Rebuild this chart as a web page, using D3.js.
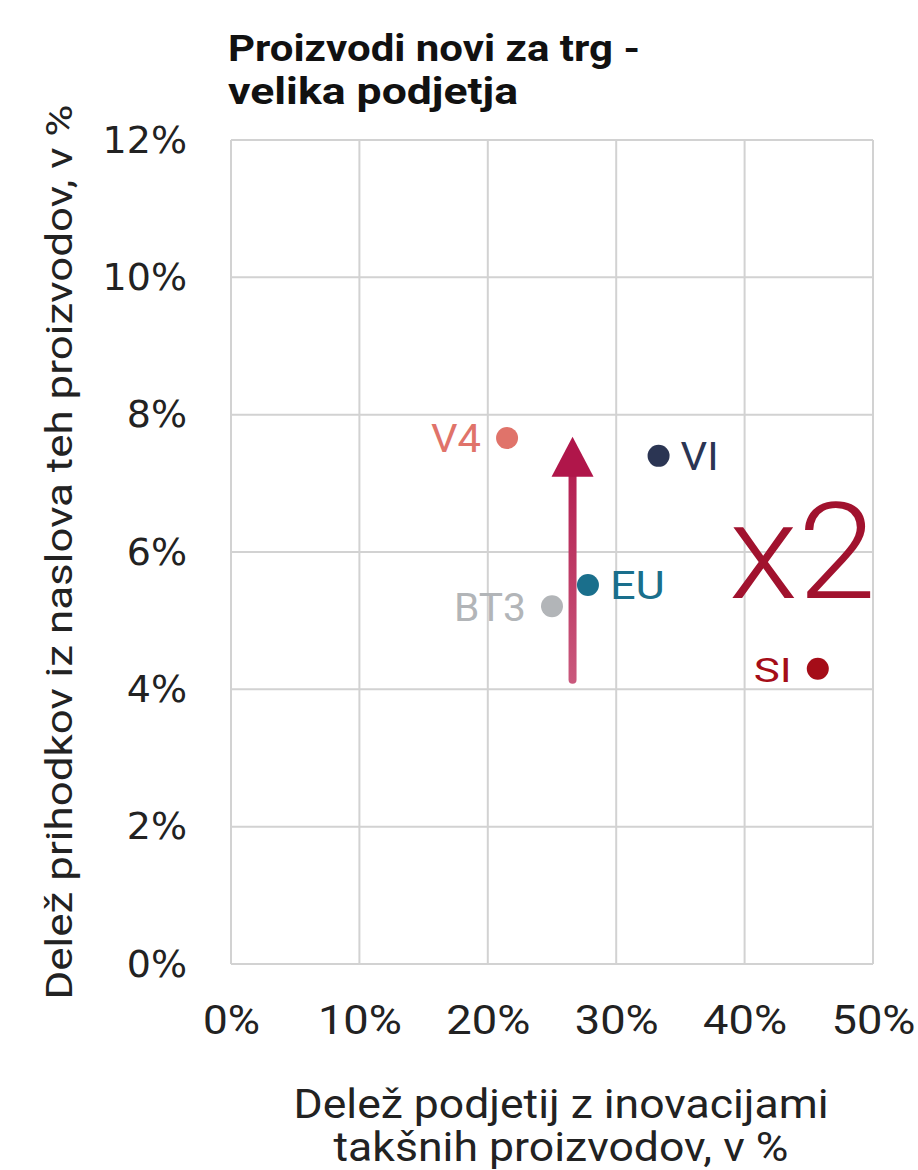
<!DOCTYPE html>
<html><head><meta charset="utf-8">
<script src="https://cdn.jsdelivr.net/npm/d3@7"></script>
<style>body{margin:0;background:#fff}svg{display:block}</style>
</head><body><svg id="c" width="918" height="1170"></svg>
<script>
const categories = ["V4", "VI", "EU", "BT3", "SI"];
const xValues = [0.215, 0.333, 0.278, 0.250, 0.457];
const yValues = [0.0766, 0.0740, 0.0552, 0.0521, 0.0430];
const pointColors = ["#e0736a", "#2b3553", "#1a6f8c", "#b2b5b8", "#a50d18"];
const labelSide = ["left", "right", "right", "left", "left"];
const xTicks = [0, 0.1, 0.2, 0.3, 0.4, 0.5];
const yTicks = [0, 0.02, 0.04, 0.06, 0.08, 0.10, 0.12];
const arrowX = [0.266];
const arrowY = [0.0414, 0.0768];
const titleLines = ["Proizvodi novi za trg -", "velika podjetja"];
const xTitleLines = ["Delež podjetij z inovacijami", "takšnih proizvodov, v %"];
const yTitle = "Delež prihodkov iz naslova teh proizvodov, v %";
const annotation = "x2";

const svg = d3.select("#c");
const x = d3.scaleLinear().domain([0, 0.5]).range([231, 873]);
const y = d3.scaleLinear().domain([0, 0.12]).range([964, 140]);
const fmt = d3.format(".0%");

// grid
svg.append("g").selectAll("line").data(xTicks).join("line")
  .attr("x1", d => x(d)).attr("x2", d => x(d)).attr("y1", y(0)).attr("y2", y(0.12))
  .attr("stroke", "#d2d2d2").attr("stroke-width", 2);
svg.append("g").selectAll("line").data(yTicks).join("line")
  .attr("y1", d => y(d)).attr("y2", d => y(d)).attr("x1", x(0)).attr("x2", x(0.5))
  .attr("stroke", "#d2d2d2").attr("stroke-width", 2);

// axes via d3 axis (labels only)
const yAxis = svg.append("g").attr("transform", `translate(${x(0)},0)`)
  .call(d3.axisLeft(y).tickValues(yTicks).tickFormat(fmt).tickSize(0).tickPadding(44));
yAxis.select(".domain").remove();
yAxis.selectAll("text").attr("font-family", "DejaVu Sans").attr("font-size", 38).attr("fill", "#222");

const xAxis = svg.append("g").attr("transform", `translate(0,${y(0)})`)
  .call(d3.axisBottom(x).tickValues(xTicks).tickFormat(fmt).tickSize(0).tickPadding(42));
xAxis.select(".domain").remove();
xAxis.selectAll("text").attr("font-family", "Roboto").attr("font-size", 40).attr("fill", "#222")
  .attr("textLength", d => d === 0 ? 57 : 84).attr("lengthAdjust", "spacingAndGlyphs");

// titles
const titleW = [412, 290];
svg.append("g").selectAll("text").data(titleLines).join("text")
  .attr("x", 228).attr("y", (d, i) => 61 + i * 43)
  .attr("font-family", "Roboto").attr("font-weight", "bold").attr("font-size", 36)
  .attr("textLength", (d, i) => titleW[i]).attr("lengthAdjust", "spacingAndGlyphs")
  .attr("fill", "#111").text(d => d);

const xTitleW = [535, 455];
svg.append("g").selectAll("text").data(xTitleLines).join("text")
  .attr("x", 561).attr("y", (d, i) => 1118 + i * 43).attr("text-anchor", "middle")
  .attr("font-family", "Roboto").attr("font-size", 40).attr("fill", "#222")
  .attr("textLength", (d, i) => xTitleW[i]).attr("lengthAdjust", "spacingAndGlyphs")
  .text(d => d);

svg.append("text").attr("transform", "translate(72,552) rotate(-90)")
  .attr("text-anchor", "middle").attr("font-family", "Roboto").attr("font-size", 37)
  .attr("fill", "#222").attr("textLength", 895).attr("lengthAdjust", "spacingAndGlyphs")
  .text(yTitle);

// arrow with gradient
const defs = svg.append("defs");
const grad = defs.append("linearGradient").attr("id", "ag").attr("gradientUnits", "userSpaceOnUse")
  .attr("x1", 0).attr("x2", 0).attr("y1", y(arrowY[0])).attr("y2", y(arrowY[1]));
grad.append("stop").attr("offset", 0).attr("stop-color", "#c9587c");
grad.append("stop").attr("offset", 1).attr("stop-color", "#b0164a");
const ax = x(arrowX[0]), ay0 = y(arrowY[0]), ay1 = y(arrowY[1]);
svg.append("line").attr("x1", ax).attr("x2", ax).attr("y1", ay0).attr("y2", ay1 + 36)
  .attr("stroke", "url(#ag)").attr("stroke-width", 8).attr("stroke-linecap", "round");
svg.append("path").attr("d", `M${ax},${ay1} L${ax + 21},${ay1 + 40} L${ax - 21},${ay1 + 40} Z`)
  .attr("fill", "#b0164a");

// points
svg.append("g").selectAll("circle").data(categories).join("circle")
  .attr("cx", (d, i) => x(xValues[i])).attr("cy", (d, i) => y(yValues[i])).attr("r", 11)
  .attr("fill", (d, i) => pointColors[i]);
const labelW = {V4: 50, VI: 38, EU: 55, BT3: 72, SI: 38};
svg.append("g").selectAll("text").data(categories).join("text")
  .attr("x", (d, i) => x(xValues[i]) + (labelSide[i] === "left" ? -26 : 22))
  .attr("y", (d, i) => y(yValues[i]))
  .attr("dy", "0.38em")
  .attr("text-anchor", (d, i) => labelSide[i] === "left" ? "end" : "start")
  .attr("font-family", "Roboto").attr("font-size", (d, i) => d === "SI" ? 34 : 38)
  .attr("textLength", d => labelW[d]).attr("lengthAdjust", "spacingAndGlyphs")
  .attr("fill", (d, i) => pointColors[i]).text(d => d);

// annotation
svg.append("text").attr("x", 876).attr("y", 598).attr("text-anchor", "end")
  .attr("font-family", "Roboto").attr("font-weight", 300).attr("font-size", 134)
  .attr("textLength", 147).attr("lengthAdjust", "spacingAndGlyphs")
  .attr("fill", "#a1122e").text(annotation);
</script></body></html>
